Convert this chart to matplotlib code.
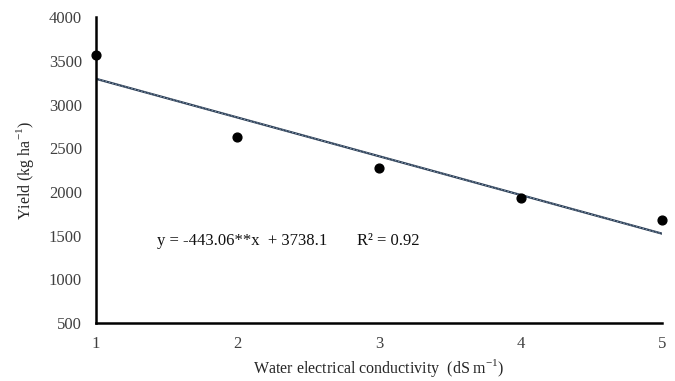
import matplotlib.pyplot as plt
import numpy as np

plt.rcParams['font.family'] = ['Liberation Serif', 'DejaVu Serif']

# data
ec = [1, 2, 3, 4, 5]
yield_kg = [3565, 2625, 2275, 1930, 1680]
slope = -443.06
intercept = 3738.1

fig = plt.figure(figsize=(6.75, 3.81), dpi=100)
ax = fig.add_axes([0.142, 0.152, 0.839, 0.803])

xs = np.array([ec[0], ec[-1]])
ax.plot(xs, slope * xs + intercept, color='#2c3e55', lw=1.6, zorder=2)
ax.plot(xs, slope * xs + intercept, color='#8da2b8', lw=0.6,
        linestyle=(0, (2, 2)), zorder=2)
ax.scatter(ec, yield_kg, s=40, color='black', zorder=3, clip_on=False)

ax.set_xlim(1, 5)
ax.set_ylim(500, 4000)
ax.set_xticks([1, 2, 3, 4, 5])
ax.set_yticks(np.arange(500, 4001, 500))
ax.tick_params(length=0, labelsize=12, colors='#404040')
ax.tick_params(axis='y', pad=10)
ax.tick_params(axis='x', pad=9)
for s in ['top', 'right']:
    ax.spines[s].set_visible(False)
for s in ['left', 'bottom']:
    ax.spines[s].set_linewidth(1.8)
    ax.spines[s].set_color('black')

ax.set_xlabel('Water electrical conductivity  (dS m$^{\\mathregular{-1}}$)',
              fontsize=11.5, color='#262626')
ax.set_ylabel('Yield (kg ha$^{\\mathregular{-1}}$)', fontsize=11.5,
              color='#262626')
ax.xaxis.set_label_coords(0.5, -0.112)
ax.yaxis.label.set_va('center')
ax.yaxis.set_label_coords(-0.125, 0.5)

ax.text(1.43, 1440, 'y = -443.06**x  + 3738.1', fontsize=12,
        ha='left', va='center', color='#111111')
ax.text(2.845, 1440, 'R² = 0.92', fontsize=12, ha='left', va='center',
        color='#111111')

fig.savefig('out.png', dpi=100)
